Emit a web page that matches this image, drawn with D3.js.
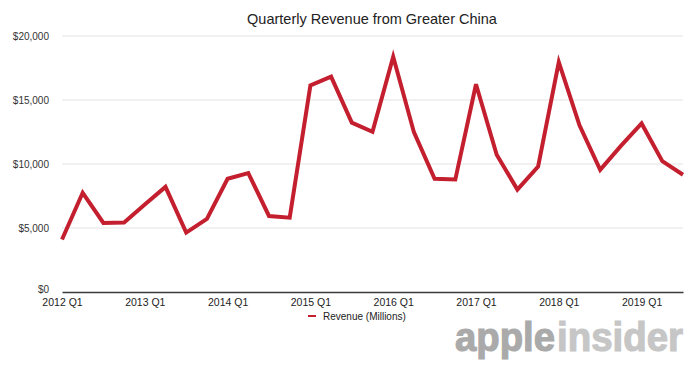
<!DOCTYPE html>
<meta charset="utf-8">
<style>
body { margin: 0; background: #fff; }
text { font-family: "Liberation Sans", Arial, Helvetica, sans-serif; }
.grid line { stroke: #e3e3e3; stroke-width: 1; }
.revenue { fill: none; stroke: #c41f2e; stroke-width: 4; stroke-linejoin: miter; }
</style>
<body>
<script src="https://cdnjs.cloudflare.com/ajax/libs/d3/7.8.5/d3.min.js"></script>
<script>

var width = 700;
var height = 374;

// fiscal quarters, 2012 Q1 .. 2019 Q3
var quarters = ["2012 Q1", "2012 Q2", "2012 Q3", "2012 Q4",
                "2013 Q1", "2013 Q2", "2013 Q3", "2013 Q4",
                "2014 Q1", "2014 Q2", "2014 Q3", "2014 Q4",
                "2015 Q1", "2015 Q2", "2015 Q3", "2015 Q4",
                "2016 Q1", "2016 Q2", "2016 Q3", "2016 Q4",
                "2017 Q1", "2017 Q2", "2017 Q3", "2017 Q4",
                "2018 Q1", "2018 Q2", "2018 Q3", "2018 Q4",
                "2019 Q1", "2019 Q2", "2019 Q3"];

// revenue in millions
var revenue = [4100, 7750, 5400, 5430, 6830, 8213, 4641, 5718,
               8844, 9286, 5939, 5807, 16144, 16823, 13230, 12518,
               18373, 12486, 8848, 8785, 16233, 10726, 8004, 9801,
               17956, 13024, 9551, 11411, 13169, 10218, 9157];

var yTicks = [0, 5000, 10000, 15000, 20000];
var xTickLabels = ["2012 Q1", "2013 Q1", "2014 Q1", "2015 Q1",
                   "2016 Q1", "2017 Q1", "2018 Q1", "2019 Q1"];

var seriesName = "Revenue (Millions)";
var title = "Quarterly Revenue from Greater China";

// plot box (don't call it "top", that's window.top)
var plotLeft = 62, plotRight = 683, plotTop = 36, plotBottom = 292;

var svg = d3.select("body")
            .append("svg")
            .attr("width", width)
            .attr("height", height);

var x = d3.scalePoint()
          .domain(quarters)
          .range([plotLeft, plotRight]);

var y = d3.scaleLinear()
          .domain([0, 20000])
          .range([plotBottom, plotTop]);

// title
svg.append("text")
   .attr("x", 372)
   .attr("y", 24)
   .attr("text-anchor", "middle")
   .style("font-size", "14.5px")
   .style("fill", "#222")
   .text(title);

// gridlines
svg.append("g")
   .attr("class", "grid")
   .selectAll("line")
   .data(yTicks.filter(function(d) { return d > 0; }))
   .enter()
   .append("line")
   .attr("x1", plotLeft)
   .attr("x2", plotRight)
   .attr("y1", function(d) { return y(d); })
   .attr("y2", function(d) { return y(d); });

// y axis labels
var yAxis = d3.axisLeft(y)
              .tickValues(yTicks)
              .tickSize(0)
              .tickPadding(13)
              .tickFormat(function(d) { return "$" + d3.format(",")(d); });

var gy = svg.append("g")
            .attr("transform", "translate(" + plotLeft + ",0)")
            .call(yAxis);
gy.select(".domain").remove();
gy.selectAll("text")
  .style("font-family", "'Liberation Sans', Arial, sans-serif")
  .style("font-size", "10px")
  .style("fill", "#333");
// the $0 label sits a little higher so it clears the first x label
gy.selectAll(".tick")
  .filter(function(d) { return d === 0; })
  .select("text")
  .attr("dy", "0.05em");

// x axis
var xAxis = d3.axisBottom(x)
              .tickValues(xTickLabels)
              .tickSize(0)
              .tickPadding(7);

var gx = svg.append("g")
            .attr("transform", "translate(0," + plotBottom + ")")
            .call(xAxis);
gx.select(".domain")
  .attr("stroke", "#3a3a3a")
  .attr("stroke-width", 1.5);
gx.selectAll("text")
  .style("font-family", "'Liberation Sans', Arial, sans-serif")
  .style("font-size", "10.5px")
  .style("fill", "#222");

// the line
var line = d3.line()
             .x(function(d, i) { return x(quarters[i]); })
             .y(function(d) { return y(d); });

svg.append("path")
   .datum(revenue)
   .attr("class", "revenue")
   .attr("d", line);

// legend
svg.append("line")
   .attr("x1", 308)
   .attr("x2", 316)
   .attr("y1", 316)
   .attr("y2", 316)
   .attr("stroke", "#c41f2e")
   .attr("stroke-width", 2);

svg.append("text")
   .attr("x", 323)
   .attr("y", 320)
   .style("font-size", "10px")
   .style("fill", "#222")
   .text(seriesName);

// watermark
svg.append("text")
   .attr("x", 455)
   .attr("y", 351)
   .attr("textLength", 100)
   .attr("lengthAdjust", "spacingAndGlyphs")
   .style("font-size", "40px")
   .style("font-weight", "bold")
   .style("fill", "#aaaaaa")
   .style("stroke", "#aaaaaa")
   .style("stroke-width", 1.2)
   .text("apple");

svg.append("text")
   .attr("x", 557)
   .attr("y", 351)
   .attr("textLength", 126)
   .attr("lengthAdjust", "spacingAndGlyphs")
   .style("font-size", "40px")
   .style("font-weight", "bold")
   .style("fill", "#c6c6c6")
   .style("stroke", "#c6c6c6")
   .style("stroke-width", 1.2)
   .text("insider");

</script>
